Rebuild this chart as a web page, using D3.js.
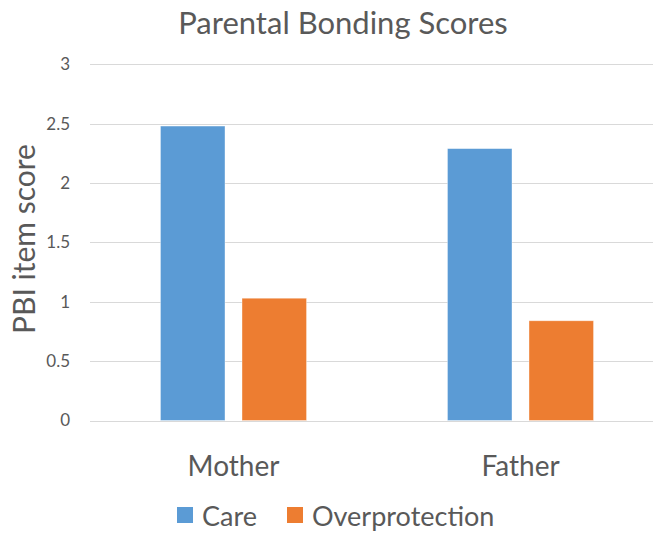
<!DOCTYPE html>
<html>
<head>
<meta charset="utf-8">
<script src="https://cdn.jsdelivr.net/npm/d3@7"></script>
<style>
  html, body { margin: 0; padding: 0; background: #fff; }
  svg text { font-family: Lato, "Open Sans", sans-serif; fill: #595959; }
</style>
</head>
<body>
<svg id="chart" width="653" height="533"></svg>
<script>
const categories = ["Mother", "Father"];
const seriesNames = ["Care", "Overprotection"];
const careValues = [2.48, 2.29];
const overprotectionValues = [1.03, 0.84];
const yTicks = [0, 0.5, 1, 1.5, 2, 2.5, 3];
const colors = ["#5B9BD5", "#ED7D31"];

const data = categories.map((c, i) => ({
  category: c,
  values: [
    { series: seriesNames[0], value: careValues[i] },
    { series: seriesNames[1], value: overprotectionValues[i] }
  ]
}));

const svg = d3.select("#chart");
const plot = { left: 90, right: 664, top: 64.3, bottom: 420.5 };

const x0 = d3.scaleBand().domain(categories).range([plot.left, plot.right])
  .paddingInner(0.491).paddingOuter(0.2455);
const x1 = d3.scaleBand().domain(seriesNames).range([0, x0.bandwidth()])
  .paddingInner(0.2086).paddingOuter(0);
const y = d3.scaleLinear().domain([0, 3]).range([plot.bottom, plot.top]);
const color = d3.scaleOrdinal().domain(seriesNames).range(colors);

// gridlines
svg.append("g").selectAll("line").data(yTicks).join("line")
  .attr("x1", plot.left).attr("x2", 653)
  .attr("y1", d => Math.round(y(d)) + 0.5).attr("y2", d => Math.round(y(d)) + 0.5)
  .attr("stroke", "#d9d9d9").attr("stroke-width", 1);

// y axis labels
const yAxis = d3.axisLeft(y).tickValues(yTicks).tickSize(0).tickPadding(0)
  .tickFormat(d3.format("~g"));
const yg = svg.append("g").attr("transform", `translate(70,0)`).call(yAxis);
yg.select(".domain").remove();
yg.selectAll("text").style("font-size", "17px").attr("fill", "#595959")
  .style("font-family", "Lato, sans-serif");

// bars
const groups = svg.append("g").selectAll("g").data(data).join("g")
  .attr("transform", d => `translate(${x0(d.category)},0)`);
groups.selectAll("rect").data(d => d.values).join("rect")
  .attr("x", d => x1(d.series))
  .attr("width", x1.bandwidth())
  .attr("y", d => y(d.value))
  .attr("height", d => y(0) - y(d.value))
  .attr("fill", d => color(d.series))
  .attr("stroke", "#ffffff").attr("stroke-opacity", 0.5).attr("stroke-width", 0.75);

// x axis labels
const xAxis = d3.axisBottom(x0).tickSize(0).tickPadding(0);
const xg = svg.append("g").attr("transform", `translate(0,${plot.bottom})`).call(xAxis);
xg.select(".domain").remove();
xg.selectAll("text").attr("dy", null).attr("y", 55)
  .style("font-size", "28px").attr("fill", "#595959")
  .style("font-family", "Lato, sans-serif");

// title
svg.append("text").attr("x", 343).attr("y", 34).attr("text-anchor", "middle")
  .style("font-size", "31px").text("Parental Bonding Scores");

// y axis title
svg.append("text").attr("transform", "translate(35,239) rotate(-90)")
  .attr("text-anchor", "middle").style("font-size", "30px").text("PBI item score");

// legend
const legendItems = [
  { name: seriesNames[0], sx: 177, tx: 202 },
  { name: seriesNames[1], sx: 287, tx: 312 }
];
const lg = svg.append("g");
lg.selectAll("rect").data(legendItems).join("rect")
  .attr("x", d => d.sx).attr("y", 507).attr("width", 16).attr("height", 16)
  .attr("fill", d => color(d.name));
lg.selectAll("text").data(legendItems).join("text")
  .attr("x", d => d.tx).attr("y", 526).style("font-size", "27px").text(d => d.name);
</script>
</body>
</html>
